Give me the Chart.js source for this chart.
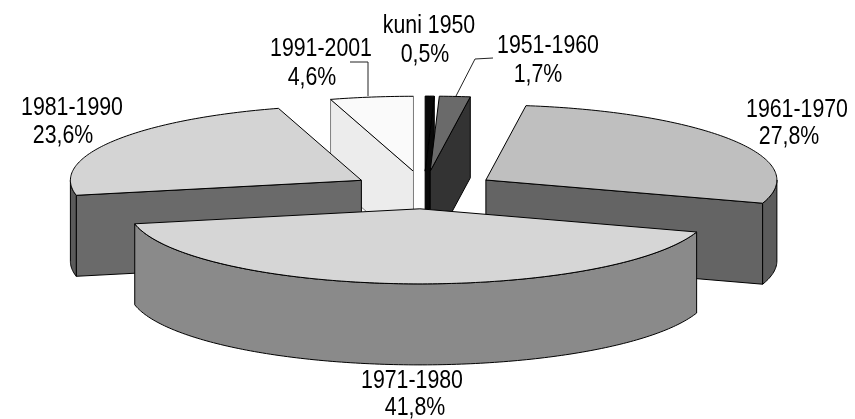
<!DOCTYPE html>
<html><head><meta charset="utf-8">
<style>html,body{margin:0;padding:0;background:#fff}canvas{display:block}</style>
<script src="https://cdn.jsdelivr.net/npm/chart.js@4"></script>
</head><body><canvas id="c" width="855" height="419"></canvas>
<script>
const categories = ["kuni 1950","1951-1960","1961-1970","1971-1980","1981-1990","1991-2001"];
const shares = [0.5,1.7,27.8,41.8,23.6,4.6];
const shareLabels = ["0,5%","1,7%","27,8%","41,8%","23,6%","4,6%"];
const topColors = ["#0a0a0a","#6a6a6a","#bfbfbf","#d6d6d6","#d4d4d4","#fafafa"];
const wallColors = ["#0a0a0a","#333333","#646464","#8a8a8a","#6a6a6a","#ececec"];
const rimColors = ["#0a0a0a","#333333","#5c5c5c","#8a8a8a","#5a5a5a","#ececec"];
const wallLineColors = ["#000","#000","#000","#000","#000","#808080"];
const paintOrder = [5,0,1,4,2,3];
const labelBoxes = [
  {x:429,y:33,x2:425,y2:62},{x:548,y:53,x2:538,y2:82},{x:797,y:117,x2:789,y2:144},
  {x:412,y:388,x2:415,y2:415},{x:72,y:115,x2:63,y2:143},{x:321,y:56,x2:312,y2:85}
];
const leaders = [
  [[350,62],[368,62],[368,96]],
  [[493,58],[475,59],[456,96]]
];
const TILT=0.258, EXPLODE=73, DEPTH=81, LABEL_SQUEEZE=0.82;

const pie3d = {
  id:'pie3d',
  beforeDatasetsDraw(chart){
    const ctx=chart.ctx, arcs=chart.getDatasetMeta(0).data;
    const pt=(a,theta,r,dz)=>{
      const mid=(a.startAngle+a.endAngle)/2;
      return [a.x+Math.cos(mid)*EXPLODE+Math.cos(theta)*r,
              a.y+(Math.sin(mid)*EXPLODE+Math.sin(theta)*r)*TILT+dz];
    };
    const poly=(pts,fill,line)=>{
      ctx.beginPath();pts.forEach((p,i)=>i?ctx.lineTo(p[0],p[1]):ctx.moveTo(p[0],p[1]));ctx.closePath();
      if(fill){ctx.fillStyle=fill;ctx.fill();}
      if(line){ctx.strokeStyle=line;ctx.lineWidth=1;ctx.lineJoin='round';ctx.stroke();}
    };
    const wall=(a,theta,fill,line)=>poly([pt(a,theta,0,0),pt(a,theta,a.outerRadius,0),pt(a,theta,a.outerRadius,DEPTH),pt(a,theta,0,DEPTH)],fill,line);
    const sweep=(a,from,to,dz)=>{const n=Math.max(2,Math.ceil((to-from)*60)),o=[];
      for(let i=0;i<=n;i++)o.push(pt(a,from+(to-from)*i/n,a.outerRadius,dz));return o;};
    paintOrder.forEach(i=>{
      const a=arcs[i], s=a.startAngle, e=a.endAngle;
      if(Math.sin(s-Math.PI/2)>1e-6) wall(a,s,wallColors[i],wallLineColors[i]);
      if(Math.sin(e+Math.PI/2)>1e-6) wall(a,e,wallColors[i],wallLineColors[i]);
      for(const k of [0,1]){
        const from=Math.max(s,k*2*Math.PI), to=Math.min(e,Math.PI+k*2*Math.PI);
        if(to>from) poly(sweep(a,from,to,0).concat(sweep(a,from,to,DEPTH).reverse()),rimColors[i],'#000');
      }
      const mid=(s+e)/2;
      ctx.save();
      ctx.translate(a.x+Math.cos(mid)*EXPLODE,a.y+Math.sin(mid)*EXPLODE*TILT);
      ctx.scale(1,TILT);
      ctx.translate(-a.x,-a.y);
      a.draw(ctx);
      ctx.restore();
      poly([pt(a,s,0,0)].concat(sweep(a,s,e,0)),null,'#000');
      if(wallLineColors[i]!=='#000') wall(a,e,null,wallLineColors[i]);
    });
    return false;
  },
  afterDraw(chart){
    const ctx=chart.ctx;
    ctx.strokeStyle='#222';ctx.lineWidth=1;
    leaders.forEach(l=>{ctx.beginPath();l.forEach((p,i)=>i?ctx.lineTo(p[0],p[1]):ctx.moveTo(p[0],p[1]));ctx.stroke();});
    ctx.fillStyle='#000';ctx.textAlign='center';ctx.textBaseline='alphabetic';
    ctx.font='26px "Liberation Sans"';
    const put=(t,x,y)=>{ctx.save();ctx.translate(x,y);ctx.scale(LABEL_SQUEEZE,1);ctx.fillText(t,0,0);ctx.restore();};
    categories.forEach((c,i)=>{const b=labelBoxes[i];put(c,b.x,b.y);put(shareLabels[i],b.x2,b.y2);});
  }
};

new Chart(document.getElementById('c'),{
  type:'pie',
  data:{labels:categories,datasets:[{data:shares,backgroundColor:topColors,borderWidth:0,offset:0}]},
  options:{
    responsive:false,animation:false,radius:291,rotation:0,
    layout:{padding:{left:0,right:7,top:0,bottom:39}},
    plugins:{legend:{display:false},tooltip:{enabled:false}}
  },
  plugins:[pie3d]
});
</script></body></html>
